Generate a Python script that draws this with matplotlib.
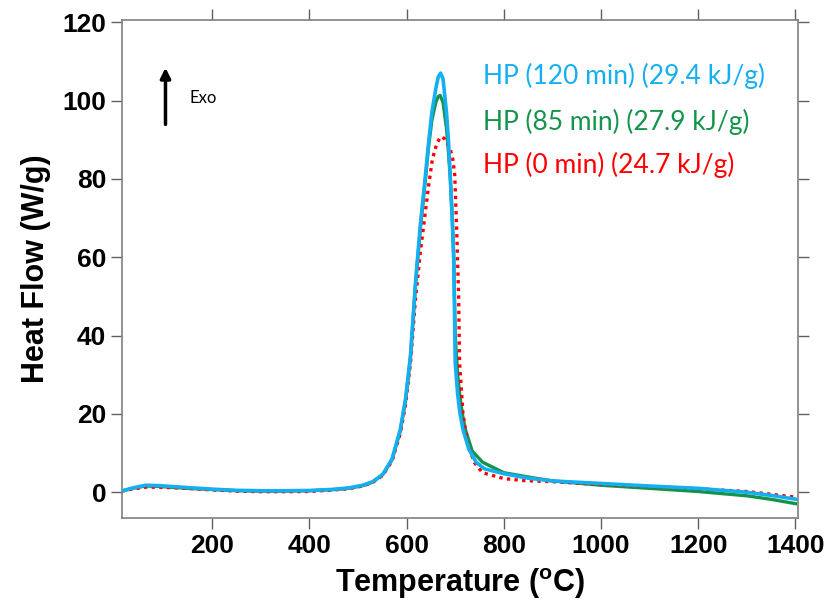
import matplotlib
matplotlib.use("Agg")
import matplotlib.pyplot as plt

# DSC curves (temperature in C, heat flow in W/g)
temp_blue = [13, 40, 63, 90, 150, 200, 250, 300, 350, 400, 450, 480, 510, 530, 551, 570, 587, 598,
             608, 613, 618, 628, 638, 645, 652, 660, 665, 670, 675, 682, 686, 690, 694, 697,
             700, 705, 710, 716, 728, 743, 760, 800, 850, 900, 1000, 1100, 1200, 1300, 1350, 1400]
hf_blue = [0.3, 1.2, 1.8, 1.7, 1.2, 0.8, 0.5, 0.4, 0.4, 0.45, 0.75, 1.1, 1.8, 2.7, 4.6, 8.5, 16.0, 24.0,
           35.0, 44.0, 53.0, 68.0, 80.0, 89.0, 97.0, 103.0, 106.0, 107.0, 105.5, 97.0, 90.0, 80.0, 69.0, 59.0,
           33.0, 25.0, 20.0, 16.0, 11.0, 7.7, 6.0, 4.75, 3.6, 2.9, 2.25, 1.6, 1.0, 0.0, -0.8, -1.75]

temp_green = [13, 40, 63, 90, 150, 200, 250, 300, 350, 400, 450, 480, 510, 530, 551, 570, 587, 598,
              608, 613, 618, 628, 638, 645, 652, 660, 665, 669, 675, 682, 686, 690, 694, 697,
              700, 705, 710, 716, 721, 735, 756, 800, 850, 900, 1000, 1100, 1200, 1300, 1350, 1400]
hf_green = [0.3, 1.1, 1.6, 1.5, 1.0, 0.7, 0.4, 0.3, 0.3, 0.4, 0.7, 1.0, 1.7, 2.6, 4.5, 8.3, 15.7, 23.6,
            34.5, 43.5, 52.5, 67.0, 79.0, 88.0, 95.0, 99.5, 101.0, 101.3, 99.5, 93.0, 87.0, 80.0, 70.0, 60.0,
            40.0, 30.0, 24.0, 19.0, 16.0, 10.5, 7.7, 5.0, 3.9, 2.9, 1.8, 1.0, 0.2, -0.9, -1.8, -2.9]

temp_red = [13, 40, 63, 90, 150, 200, 250, 300, 350, 400, 450, 480, 510, 530, 551, 570, 587, 598,
            608, 618, 628, 636, 645, 653, 662, 668, 673, 678, 684, 690, 695, 699, 703, 707, 709, 716, 726,
            740, 756, 800, 839, 900, 1000, 1100, 1200, 1300, 1350, 1400]
hf_red = [0.3, 0.9, 1.3, 1.3, 1.0, 0.6, 0.3, 0.15, 0.15, 0.2, 0.6, 0.9, 1.6, 2.5, 4.3, 8.0, 15.0, 22.5,
          33.0, 49.0, 61.0, 69.0, 78.0, 85.0, 89.0, 90.3, 90.8, 90.2, 89.0, 87.5, 85.0, 81.0, 67.0, 50.0, 33.0, 20.0, 12.0,
          7.5, 5.0, 3.5, 3.0, 2.7, 2.0, 1.5, 0.9, 0.2, -0.5, -1.25]

labels = ["HP (120 min) (29.4 kJ/g)", "HP (85 min) (27.9 kJ/g)", "HP (0 min) (24.7 kJ/g)"]
colors = ["#14aff0", "#12944a", "#ff0000"]

x_ticks = [200, 400, 600, 800, 1000, 1200, 1400]
y_ticks = [0, 20, 40, 60, 80, 100, 120]

plt.rcParams['font.family'] = ['Liberation Sans', 'DejaVu Sans']
plt.rcParams['mathtext.default'] = 'regular'

fig = plt.figure(figsize=(8.26, 6.12), dpi=100)
ax = fig.add_axes([0.148, 0.154, 0.818, 0.813])

ax.plot(temp_green, hf_green, color=colors[1], lw=2.4, zorder=2)
ax.plot(temp_red, hf_red, color=colors[2], lw=2.4, ls=(0, (1, 1.3)), zorder=3)
ax.plot(temp_blue, hf_blue, color=colors[0], lw=2.6, zorder=4)

ax.set_xlim(15, 1405)
ax.set_ylim(-6.5, 120.5)
ax.set_xticks(x_ticks)
ax.set_yticks(y_ticks)
ax.tick_params(direction='out', length=8, width=1, color='#606060',
               top=True, right=True, labelsize=19)
for lab in ax.get_xticklabels() + ax.get_yticklabels():
    lab.set_fontweight('bold')
for sp in ax.spines.values():
    sp.set_color('#808080')
    sp.set_linewidth(1.2)

ax.set_xlabel("Temperature ($^{o}$C)", fontsize=22, fontweight='bold', labelpad=6)
ax.set_ylabel("Heat Flow (W/g)", fontsize=22, fontweight='bold', labelpad=8)

#legend as coloured text lines
ys = [0.888, 0.795, 0.709]
for lab, c, y in zip(labels, colors, ys):
    ax.text(0.534, y, lab, color=c, transform=ax.transAxes, fontsize=19,
            family=['Lato', 'DejaVu Sans'], va='center', ha='left')

#Exo arrow
ax.annotate("", xy=(0.064, 0.91), xytext=(0.064, 0.785), xycoords='axes fraction',
            arrowprops=dict(arrowstyle='-|>', color='black', lw=2.5, mutation_scale=15))
ax.text(0.1, 0.843, "Exo", transform=ax.transAxes, fontsize=12,
        family=['Lato', 'DejaVu Sans'], va='center', ha='left')

fig.savefig("out.png", dpi=100)
